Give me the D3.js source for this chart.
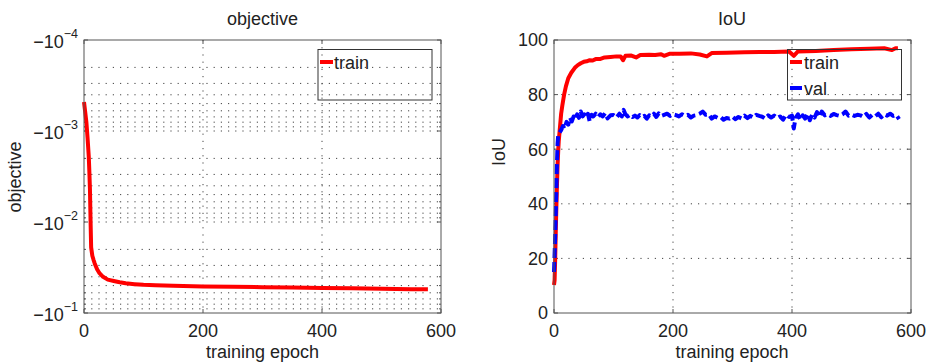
<!DOCTYPE html>
<html>

<head>
  <meta charset="utf-8">
  <title>objective / IoU</title>
  <style>
    body {
      margin: 0;
      background: #fff;
      font-family: "Liberation Sans", Arial, Helvetica, sans-serif;
    }

    text {
      fill: #222;
    }

    .frame {
      fill: none;
      stroke: #555;
      stroke-width: 1;
    }

    .grid line {
      stroke: #444;
      stroke-width: 1;
      stroke-dasharray: 1.2, 6;
    }
  </style>
</head>

<body>
  <div id="chart"></div>
  <script src="https://cdn.jsdelivr.net/npm/d3@7"></script>
  <script>
    // ---- data ----
    var xTicks = [0, 200, 400, 600];

    // objective (train), negative values on a log axis
    var objEpochs = [0, 2, 4, 6, 8, 9, 10, 11, 12, 14, 16, 18, 22, 26, 32, 40, 50, 60, 70, 85,
      100, 120, 150, 200, 250, 300, 350, 400, 450, 500, 550, 578];
    var objTrain = [-4.8e-4, -6.2e-4, -8.0e-4, -1.2e-3, -1.9e-3, -2.8e-3, -4.4e-3, -9.5e-3, -1.9e-2,
      -2.35e-2, -2.6e-2, -2.85e-2, -3.3e-2, -3.65e-2, -4.0e-2, -4.3e-2, -4.45e-2, -4.6e-2, -4.72e-2,
      -4.82e-2, -4.9e-2, -4.95e-2, -5.02e-2, -5.1e-2, -5.15e-2, -5.2e-2, -5.23e-2, -5.3e-2, -5.35e-2,
      -5.42e-2, -5.48e-2, -5.5e-2];
    var objDecades = [-1e-4, -1e-3, -1e-2, -1e-1];
    var objDecadeExp = ["−4", "−3", "−2", "−1"];

    // IoU train
    var iouTrainEpochs = [0, 1, 2, 3, 4, 5, 6, 7, 8, 10, 12, 14, 17, 20, 24, 29, 35, 40, 45, 50, 55,
      60, 65, 70, 77, 85, 95, 105, 112, 116, 120, 130, 138, 145, 160, 170, 180, 185, 195, 211, 230,
      245, 257, 265, 290, 320, 346, 370, 395, 403, 410, 440, 470, 500, 530, 555, 568, 574, 578];
    var iouTrain = [10.3, 12, 20, 30, 39, 47, 54, 59, 63, 68, 73, 76, 80, 83, 86, 88, 89.8, 90.8,
      91.5, 92, 92.2, 92.6, 92.5, 93, 93, 93.6, 93.8, 94, 94, 92.6, 94.2, 94.3, 93.6, 94.5, 94.6,
      94.5, 94.8, 94.2, 95, 95, 95.1, 94.7, 94, 95.2, 95.3, 95.5, 95.6, 95.6, 95.8, 94.2, 95.8, 96,
      96.3, 96.6, 96.8, 97, 96.3, 97, 97];

    // IoU val
    var iouValEpochs = [0, 2, 4, 5, 6, 7, 9, 12, 15, 18, 21, 24, 27, 30, 33, 36, 39, 42, 45, 48, 51,
      54, 57, 60, 63, 66, 70, 74, 78, 82, 86, 90, 95, 100, 105, 110, 114, 117, 120, 124, 128, 132,
      136, 140, 144, 148, 152, 156, 160, 164, 168, 172, 176, 180, 185, 190, 195, 200, 205, 210, 215,
      220, 225, 230, 235, 240, 245, 250, 255, 260, 265, 270, 275, 280, 285, 290, 295, 300, 305, 310,
      315, 320, 325, 330, 335, 340, 345, 350, 355, 360, 365, 370, 375, 380, 385, 390, 395, 400, 403,
      406, 410, 414, 418, 422, 426, 430, 434, 438, 442, 446, 450, 455, 460, 465, 470, 475, 480, 485,
      490, 495, 500, 505, 510, 515, 520, 525, 530, 535, 540, 545, 550, 555, 560, 565, 570, 575, 580];
    var iouVal = [15, 28, 45, 55, 62, 65, 66, 67, 68.5, 67.5, 70, 69, 71.5, 70.2, 72, 71, 72.8, 71.5,
      73.8, 72, 72.8, 71.5, 73, 70.2, 72.6, 72, 73, 71.8, 72.8, 72, 73.2, 71.3, 72.4, 72.5, 71.6, 73,
      72, 74.4, 72.8, 72, 72.6, 71.8, 72.3, 71.6, 72.5, 71.8, 72.2, 71.2, 72.4, 72, 73, 71.8, 73.1,
      72.2, 72.6, 73, 72.2, 72.8, 72.5, 72, 72.8, 72.2, 72.6, 71.6, 72.3, 72.5, 73, 73.8, 72.6, 72.8,
      71.2, 72, 71.5, 71.8, 70.8, 71.4, 71.2, 71.9, 71, 71.8, 71.3, 72.3, 71.4, 72.2, 71.6, 72.6,
      72.2, 71.9, 71.2, 72.4, 71.6, 72.3, 71.4, 72, 70.8, 72.6, 71.8, 72.3, 67.6, 71.5, 72.8, 70.8,
      72.4, 71.2, 73, 70.6, 72.7, 71.6, 73.6, 71.8, 73.8, 72.4, 72.8, 72.2, 72.9, 72.5, 72.2, 72.8,
      73.8, 72.3, 72.7, 72.2, 72.6, 72.4, 71.8, 72.9, 71.6, 72.6, 72.1, 73, 71.7, 72.8, 72.3, 73,
      72.2, 72.6, 71];
    var iouTicks = [0, 20, 40, 60, 80, 100];

    // ---- layout ----
    var width = 928, height = 362;
    var plotTop = 40, plotBottom = 313;

    var svg = d3.select("#chart").append("svg")
      .attr("width", width)
      .attr("height", height)
      .style("font-family", "'Liberation Sans', Arial, Helvetica, sans-serif");

    function zip(xs, ys) {
      return xs.map(function (d, i) { return [d, ys[i]]; });
    }

    // ================= left: objective =================
    var xL = d3.scaleLinear().domain([0, 600]).range([84, 441]);
    var yL = d3.scaleLog().domain([-1e-4, -1e-1]).range([plotTop, plotBottom]);

    var gL = svg.append("g");

    // grid: every log tick horizontally, major x ticks vertically
    var gridL = gL.append("g").attr("class", "grid");
    gridL.selectAll(".h").data(yL.ticks().filter(function (d) { return d < -1e-4 && d > -1e-1; }))
      .enter().append("line")
      .attr("x1", xL(0)).attr("x2", xL(600))
      .attr("y1", function (d) { return yL(d); })
      .attr("y2", function (d) { return yL(d); });
    gridL.selectAll(".v").data(xTicks.slice(1, -1))
      .enter().append("line")
      .attr("x1", function (d) { return xL(d); })
      .attr("x2", function (d) { return xL(d); })
      .attr("y1", plotTop).attr("y2", plotBottom);

    // tick marks inside the box
    var tickL = gL.append("g").attr("stroke", "#555");
    xTicks.forEach(function (t) {
      tickL.append("line").attr("x1", xL(t)).attr("x2", xL(t)).attr("y1", plotBottom).attr("y2", plotBottom - 4);
      tickL.append("line").attr("x1", xL(t)).attr("x2", xL(t)).attr("y1", plotTop).attr("y2", plotTop + 4);
    });
    yL.ticks().forEach(function (t) {
      var len = objDecades.indexOf(t) >= 0 ? 4 : 2;
      tickL.append("line").attr("x1", xL(0)).attr("x2", xL(0) + len).attr("y1", yL(t)).attr("y2", yL(t));
      tickL.append("line").attr("x1", xL(600)).attr("x2", xL(600) - len).attr("y1", yL(t)).attr("y2", yL(t));
    });

    // line
    gL.append("path")
      .datum(zip(objEpochs, objTrain))
      .attr("fill", "none")
      .attr("stroke", "#ff0000")
      .attr("stroke-width", 4)
      .attr("stroke-linejoin", "round")
      .attr("d", d3.line().x(function (d) { return xL(d[0]); }).y(function (d) { return yL(d[1]); }));

    gL.append("rect").attr("class", "frame")
      .attr("x", xL(0)).attr("y", plotTop)
      .attr("width", xL(600) - xL(0)).attr("height", plotBottom - plotTop);

    // y tick labels: −10 with superscript exponent
    objDecades.forEach(function (t, i) {
      var txt = gL.append("text")
        .attr("x", xL(0) - 6)
        .attr("y", yL(t) + 7.5)
        .attr("text-anchor", "end")
        .style("font-size", "18px");
      txt.append("tspan").text("−10");
      txt.append("tspan").attr("dy", -10).style("font-size", "12.5px").text(objDecadeExp[i]);
    });

    // x tick labels
    gL.selectAll(".xl").data(xTicks).enter().append("text")
      .attr("x", function (d) { return xL(d); })
      .attr("y", 337)
      .attr("text-anchor", "middle")
      .style("font-size", "18px")
      .text(function (d) { return d; });

    gL.append("text").attr("x", 262.5).attr("y", 25).attr("text-anchor", "middle")
      .style("font-size", "18px").text("objective");
    gL.append("text").attr("x", 262.5).attr("y", 358).attr("text-anchor", "middle")
      .style("font-size", "18px").text("training epoch");
    gL.append("text").attr("transform", "translate(21,177) rotate(-90)").attr("text-anchor", "middle")
      .style("font-size", "18px").text("objective");

    // legend
    var legL = gL.append("g");
    legL.append("rect").attr("x", 318).attr("y", 49.5).attr("width", 114).attr("height", 50.5)
      .attr("fill", "none").attr("stroke", "#333").attr("stroke-width", 1);
    legL.append("line").attr("x1", 320).attr("x2", 333).attr("y1", 62).attr("y2", 62)
      .attr("stroke", "#ff0000").attr("stroke-width", 4);
    legL.append("text").attr("x", 334).attr("y", 68.5).style("font-size", "18px").text("train");

    // ================= right: IoU =================
    var xR = d3.scaleLinear().domain([0, 600]).range([554, 911]);
    var yR = d3.scaleLinear().domain([0, 100]).range([plotBottom, plotTop]);

    var gR = svg.append("g");

    var gridR = gR.append("g").attr("class", "grid");
    gridR.selectAll(".h").data(iouTicks.slice(1, -1))
      .enter().append("line")
      .attr("x1", xR(0)).attr("x2", xR(600))
      .attr("y1", function (d) { return yR(d); })
      .attr("y2", function (d) { return yR(d); });
    gridR.selectAll(".v").data(xTicks.slice(1, -1))
      .enter().append("line")
      .attr("x1", function (d) { return xR(d); })
      .attr("x2", function (d) { return xR(d); })
      .attr("y1", plotTop).attr("y2", plotBottom);

    var tickR = gR.append("g").attr("stroke", "#555");
    xTicks.forEach(function (t) {
      tickR.append("line").attr("x1", xR(t)).attr("x2", xR(t)).attr("y1", plotBottom).attr("y2", plotBottom - 4);
      tickR.append("line").attr("x1", xR(t)).attr("x2", xR(t)).attr("y1", plotTop).attr("y2", plotTop + 4);
    });
    iouTicks.forEach(function (t) {
      tickR.append("line").attr("x1", xR(0)).attr("x2", xR(0) + 4).attr("y1", yR(t)).attr("y2", yR(t));
      tickR.append("line").attr("x1", xR(600)).attr("x2", xR(600) - 4).attr("y1", yR(t)).attr("y2", yR(t));
    });

    var lineR = d3.line().x(function (d) { return xR(d[0]); }).y(function (d) { return yR(d[1]); });

    gR.append("path")
      .datum(zip(iouTrainEpochs, iouTrain))
      .attr("fill", "none")
      .attr("stroke", "#ff0000")
      .attr("stroke-width", 4)
      .attr("stroke-linejoin", "round")
      .attr("d", lineR);

    gR.append("path")
      .datum(zip(iouValEpochs, iouVal))
      .attr("fill", "none")
      .attr("stroke", "#0000ff")
      .attr("stroke-width", 4)
      .attr("stroke-dasharray", "10,4")
      .attr("stroke-linejoin", "round")
      .attr("d", lineR);

    gR.append("rect").attr("class", "frame")
      .attr("x", xR(0)).attr("y", plotTop)
      .attr("width", xR(600) - xR(0)).attr("height", plotBottom - plotTop);

    gR.selectAll(".yl").data(iouTicks).enter().append("text")
      .attr("x", xR(0) - 6)
      .attr("y", function (d) { return yR(d); })
      .attr("dy", "0.36em")
      .attr("text-anchor", "end")
      .style("font-size", "18px")
      .text(function (d) { return d; });

    gR.selectAll(".xl").data(xTicks).enter().append("text")
      .attr("x", function (d) { return xR(d); })
      .attr("y", 337)
      .attr("text-anchor", "middle")
      .style("font-size", "18px")
      .text(function (d) { return d; });

    gR.append("text").attr("x", 732).attr("y", 25).attr("text-anchor", "middle")
      .style("font-size", "18px").text("IoU");
    gR.append("text").attr("x", 732).attr("y", 358).attr("text-anchor", "middle")
      .style("font-size", "18px").text("training epoch");
    gR.append("text").attr("transform", "translate(505,152) rotate(-90)").attr("text-anchor", "middle")
      .style("font-size", "18px").text("IoU");

    var legR = gR.append("g");
    legR.append("rect").attr("x", 787.5).attr("y", 49.5).attr("width", 114).attr("height", 50.5)
      .attr("fill", "none").attr("stroke", "#333").attr("stroke-width", 1);
    legR.append("line").attr("x1", 790).attr("x2", 802).attr("y1", 62).attr("y2", 62)
      .attr("stroke", "#ff0000").attr("stroke-width", 4);
    legR.append("text").attr("x", 804).attr("y", 68.5).style("font-size", "18px").text("train");
    legR.append("line").attr("x1", 790).attr("x2", 802).attr("y1", 88).attr("y2", 88)
      .attr("stroke", "#0000ff").attr("stroke-width", 4);
    legR.append("text").attr("x", 804).attr("y", 94.5).style("font-size", "18px").text("val");
  </script>
</body>

</html>
